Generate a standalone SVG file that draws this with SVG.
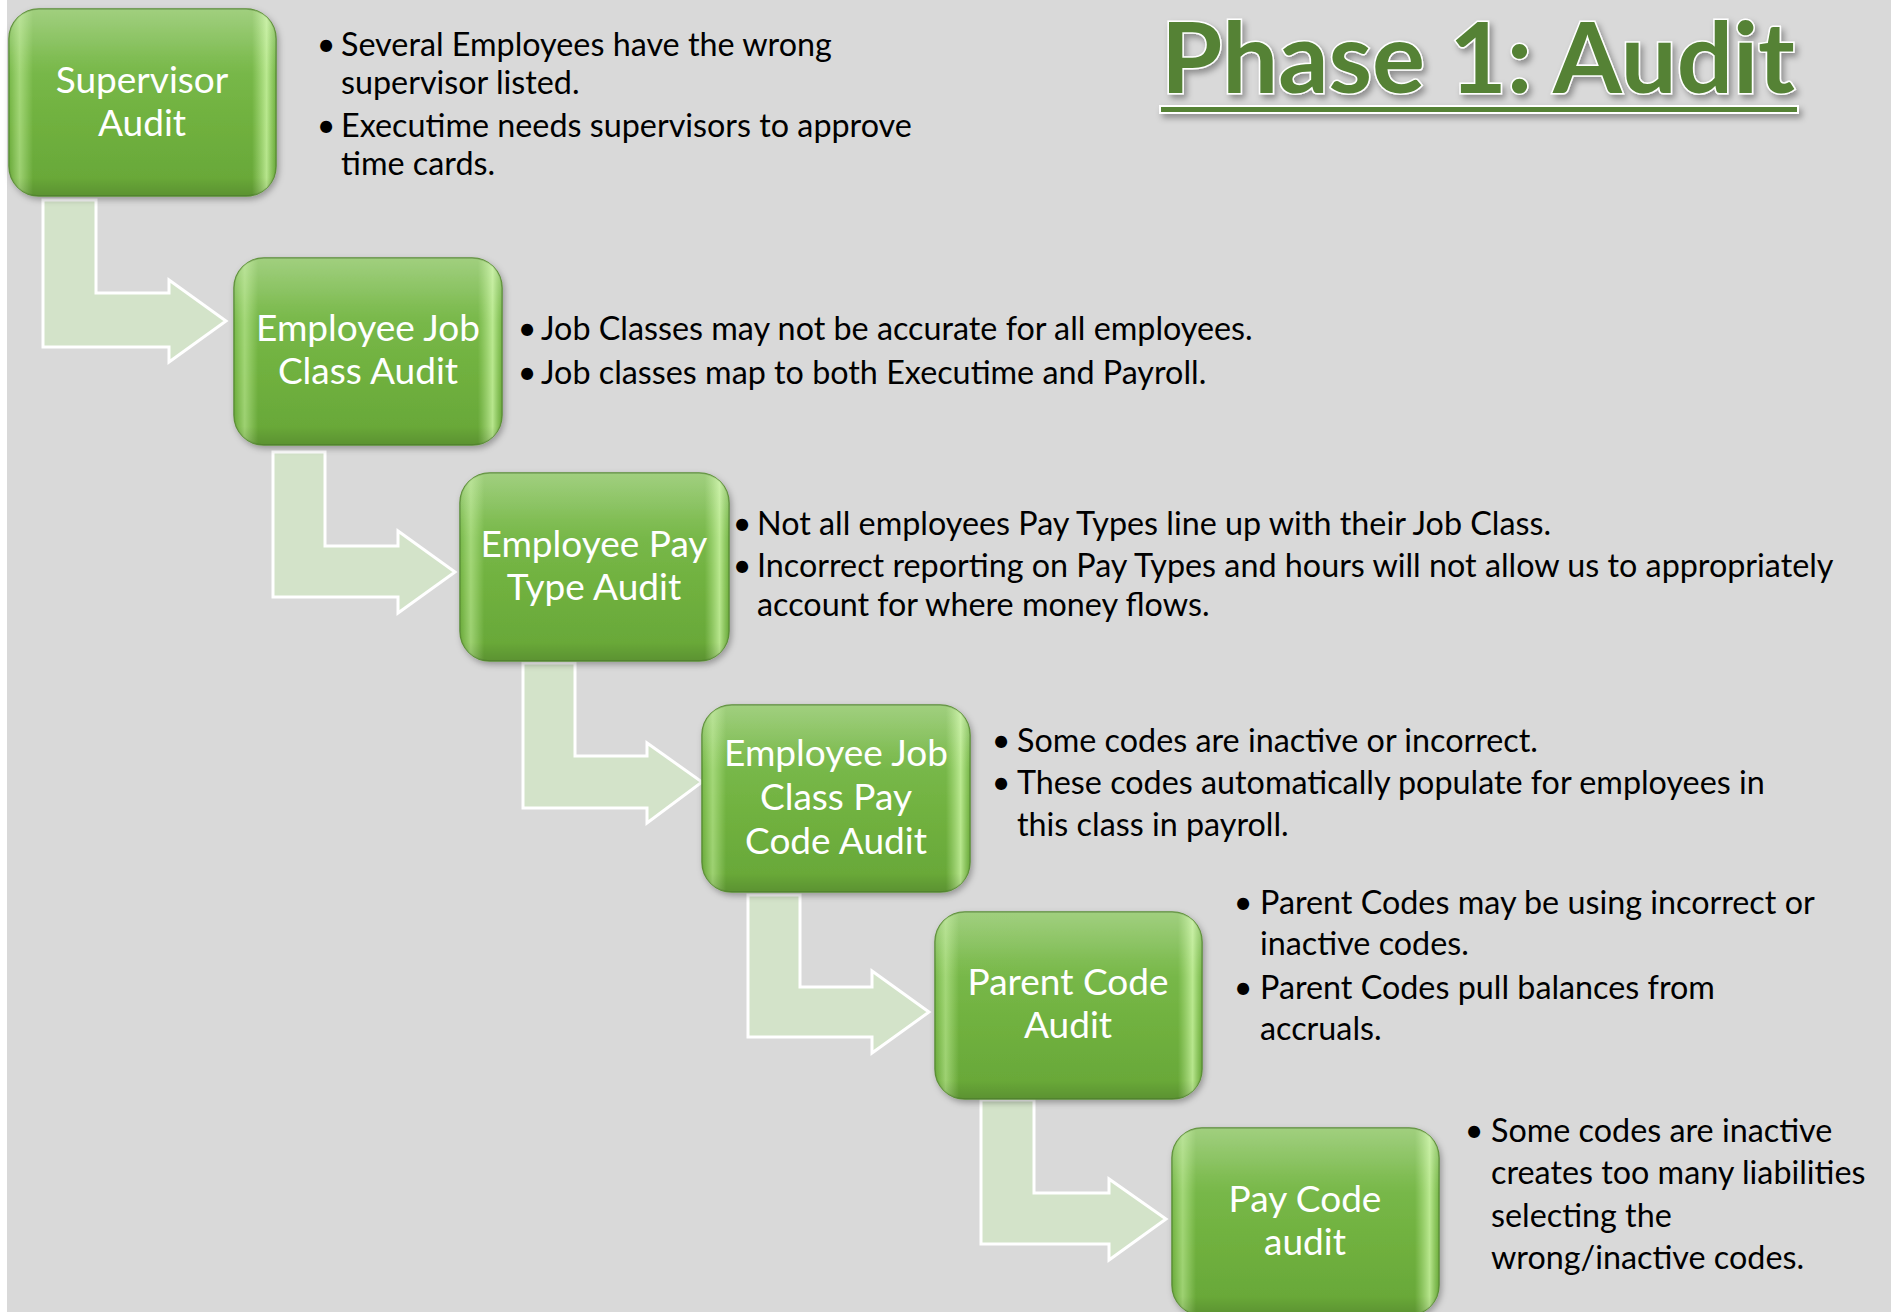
<svg xmlns="http://www.w3.org/2000/svg" width="1891" height="1312" viewBox="0 0 1891 1312">
<defs>
<style>
.bg{fill:#d9d9d9}
.arrow{fill:#d3e3c9;stroke:#ffffff;stroke-width:3;stroke-linejoin:miter}
.box{fill:url(#gFill);stroke:#5a8f34;stroke-width:1.5}
.hl{fill:url(#gSide);stroke:none}
.top{fill:url(#gTop);stroke:none}
.nt{font-family:Lato,"Open Sans","Liberation Sans",sans-serif;font-size:37px;fill:#ffffff;text-anchor:middle}
.bt{font-family:Lato,"Open Sans","Liberation Sans",sans-serif;font-size:32.3px;fill:#000000}
.bu{font-family:Lato,"Open Sans","Liberation Sans",sans-serif;font-size:32.3px;fill:#000000;text-anchor:middle}
.title{font-family:Lato,"Open Sans","Liberation Sans",sans-serif;font-weight:bold;font-size:97px;fill:#548235;stroke:#ffffff;stroke-width:3;paint-order:stroke}
</style>
<linearGradient id="gFill" x1="0" y1="0" x2="0" y2="1">
<stop offset="0" stop-color="#8cc563"/>
<stop offset="0.25" stop-color="#7aba4c"/>
<stop offset="0.6" stop-color="#70b13f"/>
<stop offset="1" stop-color="#67a637"/>
</linearGradient>
<linearGradient id="gSide" x1="0" y1="0" x2="1" y2="0">
<stop offset="0" stop-color="#c8f2a0" stop-opacity="0"/>
<stop offset="0.04" stop-color="#c8f2a0" stop-opacity="0.55"/>
<stop offset="0.09" stop-color="#c8f2a0" stop-opacity="0"/>
<stop offset="0.91" stop-color="#c8f2a0" stop-opacity="0"/>
<stop offset="0.965" stop-color="#d8ffb0" stop-opacity="0.7"/>
<stop offset="1" stop-color="#c8f2a0" stop-opacity="0"/>
</linearGradient>
<linearGradient id="gTop" x1="0" y1="0" x2="0" y2="1">
<stop offset="0" stop-color="#ffffff" stop-opacity="0.18"/>
<stop offset="0.2" stop-color="#ffffff" stop-opacity="0.08"/>
<stop offset="0.35" stop-color="#ffffff" stop-opacity="0"/>
<stop offset="0.9" stop-color="#000000" stop-opacity="0"/>
<stop offset="1" stop-color="#000000" stop-opacity="0.12"/>
</linearGradient>
<filter id="shadow" x="-10%" y="-10%" width="125%" height="130%">
<feDropShadow dx="2" dy="3" stdDeviation="3" flood-color="#000000" flood-opacity="0.3"/>
</filter>
<filter id="tshadow" x="-5%" y="-10%" width="112%" height="140%">
<feDropShadow dx="3" dy="4" stdDeviation="3" flood-color="#000000" flood-opacity="0.35"/>
</filter>
</defs>

<rect class="bg" x="0" y="0" width="1891" height="1312"/>
<rect x="0" y="0" width="7" height="1312" fill="#ffffff"/>

<g id="title" filter="url(#tshadow)">
<text class="title" x="1161" y="93" textLength="634" lengthAdjust="spacingAndGlyphs">Phase 1: Audit</text>
<rect x="1160" y="106" width="638" height="7" fill="#548235" stroke="#ffffff" stroke-width="2"/>
</g>

<g id="connectors">
<polygon class="arrow" points="43,200 96,200 96,293 169,293 169,280 226,321 169,362 169,347 43,347"/>
<polygon class="arrow" points="273,452 325,452 325,546 398,546 398,531 455,572 398,613 398,597 273,597"/>
<polygon class="arrow" points="523,663 575,663 575,756 647,756 647,743 702,782 647,823 647,808 523,808"/>
<polygon class="arrow" points="748,895 800,895 800,987 872,987 872,971 929,1012 872,1053 872,1037 748,1037"/>
<polygon class="arrow" points="981,1100 1034,1100 1034,1193 1109,1193 1109,1179 1166,1219 1109,1260 1109,1244 981,1244"/>
</g>

<g id="node1">
<g filter="url(#shadow)"><rect class="box" x="9" y="9" width="267" height="187" rx="30"/></g>
<rect class="hl" x="9" y="9" width="267" height="187" rx="30"/>
<rect class="top" x="9" y="9" width="267" height="187" rx="30"/>
<text class="nt"><tspan x="142" y="93">Supervisor</tspan><tspan x="142" y="136">Audit</tspan></text>
<text class="bu"><tspan x="326" y="56">•</tspan><tspan x="326" y="137">•</tspan></text>
<text class="bt"><tspan x="341" y="56">Several Employees have the wrong</tspan><tspan x="341" y="94">supervisor listed.</tspan><tspan x="341" y="137">Executime needs supervisors to approve</tspan><tspan x="341" y="175">time cards.</tspan></text>
</g>

<g id="node2">
<g filter="url(#shadow)"><rect class="box" x="234" y="258" width="268" height="187" rx="30"/></g>
<rect class="hl" x="234" y="258" width="268" height="187" rx="30"/>
<rect class="top" x="234" y="258" width="268" height="187" rx="30"/>
<text class="nt"><tspan x="368" y="341">Employee Job</tspan><tspan x="368" y="384">Class Audit</tspan></text>
<text class="bu"><tspan x="527" y="340">•</tspan><tspan x="527" y="384">•</tspan></text>
<text class="bt"><tspan x="541" y="340">Job Classes may not be accurate for all employees.</tspan><tspan x="541" y="384">Job classes map to both Executime and Payroll.</tspan></text>
</g>

<g id="node3">
<g filter="url(#shadow)"><rect class="box" x="460" y="473" width="269" height="188" rx="30"/></g>
<rect class="hl" x="460" y="473" width="269" height="188" rx="30"/>
<rect class="top" x="460" y="473" width="269" height="188" rx="30"/>
<text class="nt"><tspan x="594" y="557">Employee Pay</tspan><tspan x="594" y="600">Type Audit</tspan></text>
<text class="bu"><tspan x="742" y="535">•</tspan><tspan x="742" y="577">•</tspan></text>
<text class="bt"><tspan x="757" y="535">Not all employees Pay Types line up with their Job Class.</tspan><tspan x="757" y="577">Incorrect reporting on Pay Types and hours will not allow us to appropriately</tspan><tspan x="757" y="616">account for where money flows.</tspan></text>
</g>

<g id="node4">
<g filter="url(#shadow)"><rect class="box" x="702" y="705" width="268" height="187" rx="30"/></g>
<rect class="hl" x="702" y="705" width="268" height="187" rx="30"/>
<rect class="top" x="702" y="705" width="268" height="187" rx="30"/>
<text class="nt"><tspan x="836" y="766">Employee Job</tspan><tspan x="836" y="810">Class Pay</tspan><tspan x="836" y="854">Code Audit</tspan></text>
<text class="bu"><tspan x="1001" y="752">•</tspan><tspan x="1001" y="794">•</tspan></text>
<text class="bt"><tspan x="1017" y="752">Some codes are inactive or incorrect.</tspan><tspan x="1017" y="794">These codes automatically populate for employees in</tspan><tspan x="1017" y="836">this class in payroll.</tspan></text>
</g>

<g id="node5">
<g filter="url(#shadow)"><rect class="box" x="935" y="912" width="267" height="187" rx="30"/></g>
<rect class="hl" x="935" y="912" width="267" height="187" rx="30"/>
<rect class="top" x="935" y="912" width="267" height="187" rx="30"/>
<text class="nt"><tspan x="1068" y="995">Parent Code</tspan><tspan x="1068" y="1038">Audit</tspan></text>
<text class="bu"><tspan x="1243" y="914">•</tspan><tspan x="1243" y="999">•</tspan></text>
<text class="bt"><tspan x="1260" y="914">Parent Codes may be using incorrect or</tspan><tspan x="1260" y="955">inactive codes.</tspan><tspan x="1260" y="999">Parent Codes pull balances from</tspan><tspan x="1260" y="1040">accruals.</tspan></text>
</g>

<g id="node6">
<g filter="url(#shadow)"><rect class="box" x="1172" y="1128" width="267" height="187" rx="30"/></g>
<rect class="hl" x="1172" y="1128" width="267" height="187" rx="30"/>
<rect class="top" x="1172" y="1128" width="267" height="187" rx="30"/>
<text class="nt"><tspan x="1305" y="1212">Pay Code</tspan><tspan x="1305" y="1255">audit</tspan></text>
<text class="bu"><tspan x="1474" y="1142">•</tspan></text>
<text class="bt"><tspan x="1491" y="1142">Some codes are inactive</tspan><tspan x="1491" y="1184">creates too many liabilities</tspan><tspan x="1491" y="1227">selecting the</tspan><tspan x="1491" y="1269">wrong/inactive codes.</tspan></text>
</g>
</svg>
